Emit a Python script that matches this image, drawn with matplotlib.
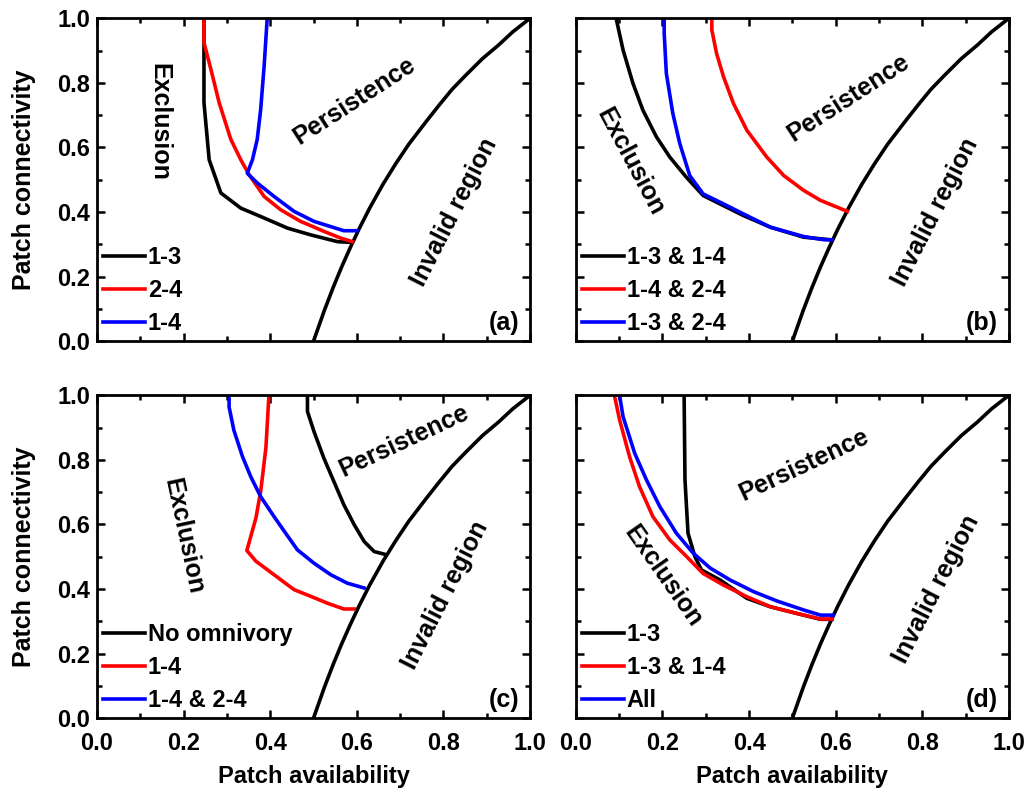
import matplotlib.pyplot as plt
from matplotlib.ticker import MultipleLocator

plt.rcParams['font.family'] = ['Liberation Sans', 'DejaVu Sans']
plt.rcParams['font.weight'] = 'bold'

# invalid region boundary
bound_x = [0.5, 0.525, 0.545, 0.565, 0.585, 0.605, 0.63, 0.66, 0.69, 0.72, 0.76, 0.79, 0.82, 0.851, 0.89, 0.928, 0.96, 1.0]
bound_y = [0.0, 0.095, 0.165, 0.23, 0.29, 0.347, 0.413, 0.485, 0.55, 0.61, 0.68, 0.731, 0.78, 0.823, 0.875, 0.918, 0.958, 1.0]

# panel (a)
a_13_x = [0.247, 0.247, 0.259, 0.286, 0.332, 0.378, 0.440, 0.494, 0.556, 0.587]
a_13_y = [1.0, 0.739, 0.562, 0.459, 0.412, 0.386, 0.350, 0.329, 0.308, 0.306]
a_24_x = [0.247, 0.247, 0.263, 0.282, 0.309, 0.332, 0.351, 0.386, 0.424, 0.470, 0.524, 0.563, 0.590]
a_24_y = [1.0, 0.925, 0.842, 0.739, 0.625, 0.562, 0.516, 0.448, 0.407, 0.371, 0.340, 0.319, 0.308]
a_14_x = [0.393, 0.386, 0.378, 0.370, 0.359, 0.347, 0.370, 0.409, 0.455, 0.501, 0.570, 0.600]
a_14_y = [1.0, 0.853, 0.718, 0.625, 0.562, 0.520, 0.490, 0.448, 0.402, 0.371, 0.342, 0.342]

# panel (b)
b_k_x = [0.093, 0.109, 0.132, 0.155, 0.186, 0.217, 0.255, 0.294, 0.333, 0.387, 0.449, 0.526, 0.588]
b_k_y = [1.0, 0.902, 0.798, 0.715, 0.633, 0.570, 0.508, 0.451, 0.425, 0.389, 0.353, 0.322, 0.314]
b_r_x = [0.314, 0.314, 0.325, 0.341, 0.364, 0.395, 0.441, 0.480, 0.526, 0.565, 0.627]
b_r_y = [1.0, 0.964, 0.891, 0.819, 0.736, 0.653, 0.570, 0.513, 0.467, 0.436, 0.402]
b_b_x = [0.204, 0.204, 0.209, 0.224, 0.240, 0.263, 0.294, 0.341, 0.387, 0.449, 0.526, 0.573, 0.592]
b_b_y = [1.0, 0.953, 0.829, 0.705, 0.612, 0.513, 0.456, 0.425, 0.394, 0.353, 0.324, 0.314, 0.314]

# panel (c)
c_k_x = [0.486, 0.486, 0.501, 0.524, 0.547, 0.570, 0.594, 0.617, 0.640, 0.663]
c_k_y = [1.0, 0.950, 0.888, 0.805, 0.733, 0.661, 0.599, 0.547, 0.516, 0.508]
c_r_x = [0.397, 0.390, 0.378, 0.367, 0.346, 0.367, 0.409, 0.455, 0.494, 0.532, 0.570, 0.594]
c_r_y = [1.0, 0.837, 0.703, 0.620, 0.519, 0.486, 0.444, 0.398, 0.377, 0.356, 0.338, 0.338]
c_b_x = [0.305, 0.305, 0.316, 0.336, 0.355, 0.378, 0.409, 0.436, 0.463, 0.501, 0.540, 0.578, 0.617]
c_b_y = [1.0, 0.964, 0.892, 0.810, 0.748, 0.686, 0.624, 0.572, 0.521, 0.480, 0.444, 0.418, 0.403]

# panel (d)
d_k_x = [0.250, 0.252, 0.259, 0.275, 0.290, 0.333, 0.395, 0.449, 0.511, 0.565, 0.592]
d_k_y = [1.0, 0.738, 0.573, 0.500, 0.459, 0.428, 0.371, 0.345, 0.324, 0.306, 0.306]
d_r_x = [0.089, 0.101, 0.124, 0.147, 0.178, 0.217, 0.256, 0.294, 0.341, 0.395, 0.449, 0.511, 0.565, 0.592]
d_r_y = [1.0, 0.924, 0.810, 0.717, 0.624, 0.552, 0.500, 0.448, 0.412, 0.376, 0.345, 0.324, 0.307, 0.307]
d_b_x = [0.101, 0.109, 0.136, 0.163, 0.194, 0.232, 0.271, 0.310, 0.356, 0.410, 0.464, 0.526, 0.565, 0.594]
d_b_y = [1.0, 0.934, 0.820, 0.738, 0.655, 0.573, 0.511, 0.465, 0.428, 0.392, 0.363, 0.335, 0.319, 0.319]

panels = [
    ('(a)', [(a_13_x, a_13_y, 'black', '1-3'), (a_24_x, a_24_y, 'red', '2-4'), (a_14_x, a_14_y, 'blue', '1-4')],
     [(0.145, 0.68, -90), (0.595, 0.745, 33), (0.826, 0.40, 63)]),
    ('(b)', [(b_k_x, b_k_y, 'black', '1-3 & 1-4'), (b_r_x, b_r_y, 'red', '1-4 & 2-4'), (b_b_x, b_b_y, 'blue', '1-3 & 2-4')],
     [(0.125, 0.555, -62), (0.63, 0.755, 33), (0.83, 0.40, 63)]),
    ('(c)', [(c_k_x, c_k_y, 'black', 'No omnivory'), (c_r_x, c_r_y, 'red', '1-4'), (c_b_x, c_b_y, 'blue', '1-4 & 2-4')],
     [(0.20, 0.565, -78), (0.71, 0.86, 25), (0.805, 0.38, 63)]),
    ('(d)', [(d_k_x, d_k_y, 'black', '1-3'), (d_r_x, d_r_y, 'red', '1-3 & 1-4'), (d_b_x, d_b_y, 'blue', 'All')],
     [(0.20, 0.44, -55), (0.526, 0.785, 25), (0.833, 0.40, 63)]),
]

boxes = [(0.094, 0.572), (0.558, 0.572), (0.094, 0.099), (0.558, 0.099)]
fig = plt.figure(figsize=(10.32, 7.97), dpi=100)

for i, (tag, curves, labs) in enumerate(panels):
    ax = fig.add_axes([boxes[i][0], boxes[i][1], 0.4196, 0.405])
    ax.plot(bound_x, bound_y, color='black', lw=2.6)
    for x, y, c, name in curves:
        ax.plot(x, y, color=c, lw=2.6, label=name)
    ax.set_xlim(0, 1)
    ax.set_ylim(0, 1)
    ax.xaxis.set_major_locator(MultipleLocator(0.2))
    ax.xaxis.set_minor_locator(MultipleLocator(0.1))
    ax.yaxis.set_major_locator(MultipleLocator(0.2))
    ax.yaxis.set_minor_locator(MultipleLocator(0.1))
    ax.tick_params(which='both', direction='in', top=True, right=True, width=1.8, labelsize=17)
    ax.tick_params(which='major', length=6)
    ax.tick_params(which='minor', length=3.5)
    ax.tick_params(axis='x', pad=10)
    ax.tick_params(axis='y', pad=5)
    for s in ax.spines.values():
        s.set_linewidth(2)
    if i % 2 == 1:
        ax.set_yticklabels([])
    else:
        ax.set_ylabel('Patch connectivity', fontsize=18, fontweight='bold', labelpad=15)
    if i < 2:
        ax.set_xticklabels([])
    else:
        ax.set_xlabel('Patch availability', fontsize=17, fontweight='bold', labelpad=7)
    for lbl in ax.get_xticklabels() + ax.get_yticklabels():
        lbl.set_fontweight('bold')
    ax.text(labs[0][0], labs[0][1], 'Exclusion', rotation=labs[0][2], fontsize=18,
            fontweight='bold', ha='center', va='center')
    ax.text(labs[1][0], labs[1][1], 'Persistence', rotation=labs[1][2], fontsize=18,
            fontweight='bold', ha='center', va='center')
    ax.text(labs[2][0], labs[2][1], 'Invalid region', rotation=labs[2][2], fontsize=18,
            fontweight='bold', ha='center', va='center')
    ax.text(0.975, 0.02, tag, transform=ax.transAxes, fontsize=18, fontweight='bold',
            ha='right', va='bottom')
    ax.legend(loc='lower left', frameon=False, handlelength=1.8,
              handletextpad=0.1, labelspacing=0.42, borderaxespad=0.1, borderpad=0.15,
              prop={'weight': 'bold', 'size': 17})

fig.savefig('out.png', dpi=100)
